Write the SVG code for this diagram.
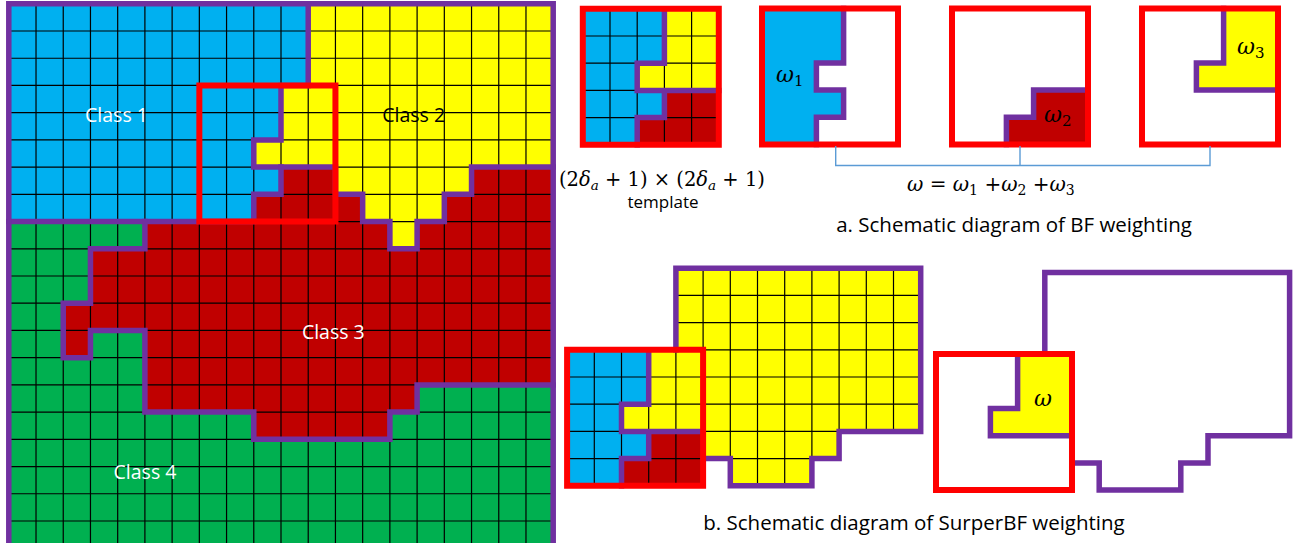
<svg xmlns="http://www.w3.org/2000/svg" width="1294" height="543" viewBox="0 0 1294 543">
<style>
.ns{vector-effect:non-scaling-stroke}
.grid{fill:none;stroke:#000;stroke-width:1.2;vector-effect:non-scaling-stroke}
.pur{fill:none;stroke:#7030A0;stroke-width:5.5;stroke-linecap:square;stroke-linejoin:miter;vector-effect:non-scaling-stroke}
.rbox{fill:none;stroke:#FF0000;stroke-width:6;stroke-linejoin:miter;vector-effect:non-scaling-stroke}
.blue{fill:#00B0F0}.yel{fill:#FFFF00}.dred{fill:#C00000}.grn{fill:#00B050}.wht{fill:#FFFFFF}
.lbl{font-family:"Open Sans","Liberation Sans",sans-serif;font-size:19.5px;text-anchor:middle}
.cap{font-family:"Open Sans","Liberation Sans",sans-serif;font-size:20.5px}
.m{font-family:"DejaVu Serif","Liberation Serif",serif;font-size:19.5px;fill:#000}
.w{font-family:"DejaVu Serif","Liberation Serif",serif;font-size:22px;fill:#000}
.it{font-style:italic}
</style>
<defs>
<clipPath id="bclip" clipPathUnits="userSpaceOnUse"><path d="M4 0H13V6H10V7H9V8H6V7H5V8H0V3H4Z"/></clipPath>
</defs>
<rect width="1294" height="543" fill="#fff"/>

<g id="main-grid" transform="translate(8.8,3.8) scale(27.22)">
<rect class="grn" x="0" y="0" width="20" height="20"/>
<path class="blue" d="M0 0H11V3H10V5H9V6H10V7H9V8H0Z"/>
<path class="yel" d="M11 0H20V6H17V7H16V8H15V9H14V8H13V7H12V6H9V5H10V3H11Z"/>
<path class="dred" d="M5 8H9V7H10V6H12V7H13V8H14V9H15V8H16V7H17V6H20V14H15V15H14V16H9V15H5V12H3V13H2V11H3V9H5Z"/>
<path class="grid" d="M1 0V20M2 0V20M3 0V20M4 0V20M5 0V20M6 0V20M7 0V20M8 0V20M9 0V20M10 0V20M11 0V20M12 0V20M13 0V20M14 0V20M15 0V20M16 0V20M17 0V20M18 0V20M19 0V20M0 1H20M0 2H20M0 3H20M0 4H20M0 5H20M0 6H20M0 7H20M0 8H20M0 9H20M0 10H20M0 11H20M0 12H20M0 13H20M0 14H20M0 15H20M0 16H20M0 17H20M0 18H20M0 19H20"/>
<path class="pur" d="M11 0V3H10V5H9V6H10H12V7H13V8H14V9H15V8H16V7H17V6H20"/>
<path class="pur" d="M10 6V7H9V8H0"/>
<path class="pur" d="M5 8V9H3V11H2V13H3V12H5V15H9V16H14V15H15V14H20"/>
<rect class="pur" x="0" y="0" width="20" height="20"/>
<rect class="rbox" x="7" y="3" width="5" height="5"/>
</g>
<g id="class-labels">
<text class="lbl" x="116.5" y="121.5" fill="#fff">Class 1</text>
<text class="lbl" x="413.7" y="121.5" fill="#000">Class 2</text>
<text class="lbl" x="333.3" y="339" fill="#fff">Class 3</text>
<text class="lbl" x="145" y="479" fill="#fff">Class 4</text>
</g>

<g id="template" transform="translate(582.8,8.8) scale(27.2)">
<rect class="blue" x="0" y="0" width="5" height="5"/>
<path class="yel" d="M3 0H5V3H2V2H3Z"/>
<path class="dred" d="M3 3H5V5H2V4H3Z"/>
<path class="grid" d="M1 0V5M2 0V5M3 0V5M4 0V5M0 1H5M0 2H5M0 3H5M0 4H5"/>
<path class="pur" d="M3 0V2H2V3H5M3 3V4H2V5"/>
<rect class="rbox" x="0" y="0" width="5" height="5"/>
</g>
<g id="template-label">
<text class="m" x="559" y="186">(2<tspan class="it">δ</tspan><tspan class="it" font-size="13.5" dy="4">a</tspan><tspan dy="-4"> + 1) × (2</tspan><tspan class="it">δ</tspan><tspan class="it" font-size="13.5" dy="4">a</tspan><tspan dy="-4"> + 1)</tspan></text>
<text class="lbl" x="663" y="208" style="font-size:17px">template</text>
</g>

<g id="box-w1" transform="translate(762,8.5) scale(27.2)">
<rect class="wht" x="0" y="0" width="5" height="5"/>
<path class="blue" d="M0 0H3V2H2V3H3V4H2V5H0Z"/>
<path class="pur" d="M3 0V2H2V3H3V4H2V5"/>
<rect class="rbox" x="0" y="0" width="5" height="5"/>
</g>
<text class="w" x="776" y="82"><tspan class="it">ω</tspan><tspan font-size="15" dy="4">1</tspan></text>

<g id="box-w2" transform="translate(952,8.5) scale(27.2)">
<rect class="wht" x="0" y="0" width="5" height="5"/>
<path class="dred" d="M3 3H5V5H2V4H3Z"/>
<path class="pur" d="M5 3H3V4H2V5"/>
<rect class="rbox" x="0" y="0" width="5" height="5"/>
</g>
<text class="w" x="1044" y="122"><tspan class="it">ω</tspan><tspan font-size="15" dy="4">2</tspan></text>

<g id="box-w3" transform="translate(1142,8.5) scale(27.2)">
<rect class="wht" x="0" y="0" width="5" height="5"/>
<path class="yel" d="M3 0H5V3H2V2H3Z"/>
<path class="pur" d="M3 0V2H2V3H5"/>
<rect class="rbox" x="0" y="0" width="5" height="5"/>
</g>
<text class="w" x="1237" y="54"><tspan class="it">ω</tspan><tspan font-size="15" dy="4">3</tspan></text>

<g id="connectors">
<path d="M835.7 146V165.5H1210V146M1020 146V165.5" fill="none" stroke="#5B9BD5" stroke-width="1.4"/>
</g>
<text class="m" x="907" y="191" style="font-size:20px"><tspan class="it">ω</tspan> = <tspan class="it">ω</tspan><tspan font-size="14" dy="4">1</tspan><tspan dy="-4"> +</tspan><tspan class="it">ω</tspan><tspan font-size="14" dy="4">2</tspan><tspan dy="-4"> +</tspan><tspan class="it">ω</tspan><tspan font-size="14" dy="4">3</tspan></text>
<text class="cap" x="1014" y="232" text-anchor="middle">a. Schematic diagram of BF weighting</text>

<g id="superbf-left" transform="translate(567.1,268.2) scale(27.2)">
<path class="yel" d="M4 0H13V6H10V7H9V8H6V7H5V3H4Z"/>
<rect class="blue" x="0" y="3" width="5" height="5"/>
<path class="yel" d="M3 3H5V6H2V5H3Z"/>
<path class="dred" d="M3 6H5V8H2V7H3Z"/>
<g clip-path="url(#bclip)">
<path class="grid" d="M1 0V8M2 0V8M3 0V8M4 0V8M5 0V8M6 0V8M7 0V8M8 0V8M9 0V8M10 0V8M11 0V8M12 0V8M0 1H13M0 2H13M0 3H13M0 4H13M0 5H13M0 6H13M0 7H13"/>
</g>
<path class="pur" d="M4 3V0H13V6H10V7H9V8H6V7H5"/>
<path class="pur" d="M3 3V5H2V6H5M3 6V7H2V8"/>
<rect class="rbox" x="0" y="3" width="5" height="5"/>
</g>

<g id="superbf-right" transform="translate(936,272.5) scale(27.2)">
<path class="yel" d="M3 3H5V6H2V5H3Z"/>
<path class="pur" d="M4 3V0H13V6H10V7H9V8H6V7H5"/>
<path class="pur" d="M3 3V5H2V6H5"/>
<rect class="rbox" x="0" y="3" width="5" height="5"/>
</g>
<text class="w" x="1034" y="406"><tspan class="it">ω</tspan></text>
<text class="cap" x="914" y="530" text-anchor="middle">b. Schematic diagram of SurperBF weighting</text>
</svg>
